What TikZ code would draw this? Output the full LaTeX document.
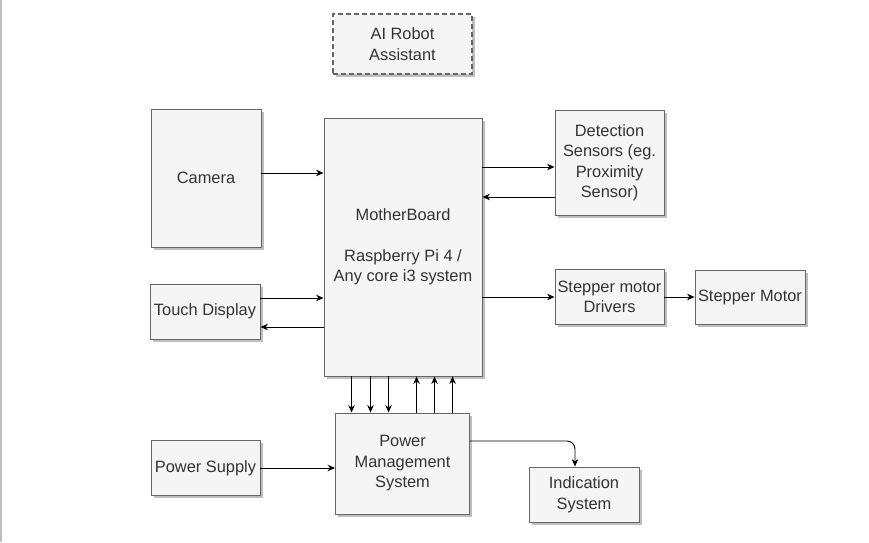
\documentclass[tikz,border=0pt]{standalone}
\usepackage{fontspec}
\setmainfont{Liberation Sans}
\usetikzlibrary{arrows.meta,shadows}
\definecolor{boxfill}{HTML}{F5F5F5}
\definecolor{boxline}{HTML}{666666}
\definecolor{boxtext}{HTML}{333333}
\begin{document}
\begin{tikzpicture}[x=1pt,y=-1pt,
  blk/.style={draw=boxline, fill=boxfill, line width=0.9pt, text=boxtext,
    align=center, inner sep=2pt, font=\fontsize{16.4}{20.5}\selectfont,
    drop shadow={shadow xshift=2.5pt, shadow yshift=-2.5pt, fill=black, opacity=0.25}},
  conn/.style={draw=black, line width=0.9pt, -{Stealth[length=7.5pt,width=6.5pt]}}]
\useasboundingbox (0,0) rectangle (869,542);
\fill[white] (0,0) rectangle (869,542);
\draw[gray!50, line width=1.5pt] (0.75,0) -- (0.75,542);

\node[blk, line width=1.4pt, dash pattern=on 5pt off 3pt, minimum width=139pt, minimum height=60pt] (title) at (402.5,44) {AI Robot\\Assistant};
\node[blk, minimum width=110pt, minimum height=138pt] (cam) at (206,178) {Camera};
\node[blk, minimum width=158pt, minimum height=258pt] (mb) at (403,247) {MotherBoard\\[20pt]Raspberry Pi 4 /\\Any core i3 system};
\node[blk, minimum width=109pt, minimum height=105pt] (det) at (609.5,162.5) {Detection\\Sensors (eg.\\Proximity\\Sensor)};
\node[blk, minimum width=109pt, minimum height=55pt] (drv) at (609.5,297) {Stepper motor\\Drivers};
\node[blk, minimum width=110pt, minimum height=54pt] (stm) at (750,297) {Stepper Motor};
\node[blk, minimum width=110pt, minimum height=55pt] (touch) at (205,311.5) {Touch Display};
\node[blk, minimum width=109pt, minimum height=55pt] (ps) at (205.5,468) {Power Supply};
\node[blk, minimum width=134pt, minimum height=101pt] (pm) at (402.5,463.5) {Power\\Management\\System};
\node[blk, minimum width=110pt, minimum height=55pt] (ind) at (584,494.5) {Indication\\System};

% camera -> motherboard
\coordinate (c1) at ([yshift=5pt]cam.east);
\draw[conn] (c1) -- (c1 -| mb.west);
% touch display <-> motherboard
\coordinate (t1) at ([yshift=13.5pt]touch.east);
\draw[conn] (t1) -- (t1 -| mb.west);
\coordinate (t2) at ([yshift=-15.5pt]mb.west |- touch.east);
\draw[conn] (t2) -- (t2 -| touch.east);
% motherboard <-> detection
\coordinate (s1) at ([yshift=-4.5pt]det.west);
\draw[conn] (s1 -| mb.east) -- (s1);
\coordinate (s2) at ([yshift=-34.5pt]det.west);
\draw[conn] (s2) -- (s2 -| mb.east);
% motherboard -> drivers -> stepper motor
\draw[conn] (drv.west -| mb.east) -- (drv.west);
\draw[conn] (drv.east) -- (stm.west);
% motherboard <-> power management
\foreach \dx/\nm in {28/d1,47/d2,65/d3}{
  \coordinate (\nm) at ([xshift=\dx pt]mb.south west);
  \draw[conn] (\nm) -- (\nm |- pm.north);
}
\foreach \dx/\nm in {93/u1,111/u2,129/u3}{
  \coordinate (\nm) at ([xshift=\dx pt]mb.south west);
  \draw[conn] (\nm |- pm.north) -- (\nm);
}
% power supply -> power management
\draw[conn] (ps.east) -- (ps.east -| pm.west);
% power management -> indication
\coordinate (p1) at ([yshift=22.5pt]pm.east);
\coordinate (i1) at ([xshift=-9pt]ind.north);
\draw[conn, rounded corners=8pt] (p1) -| (i1);
\end{tikzpicture}
\end{document}
